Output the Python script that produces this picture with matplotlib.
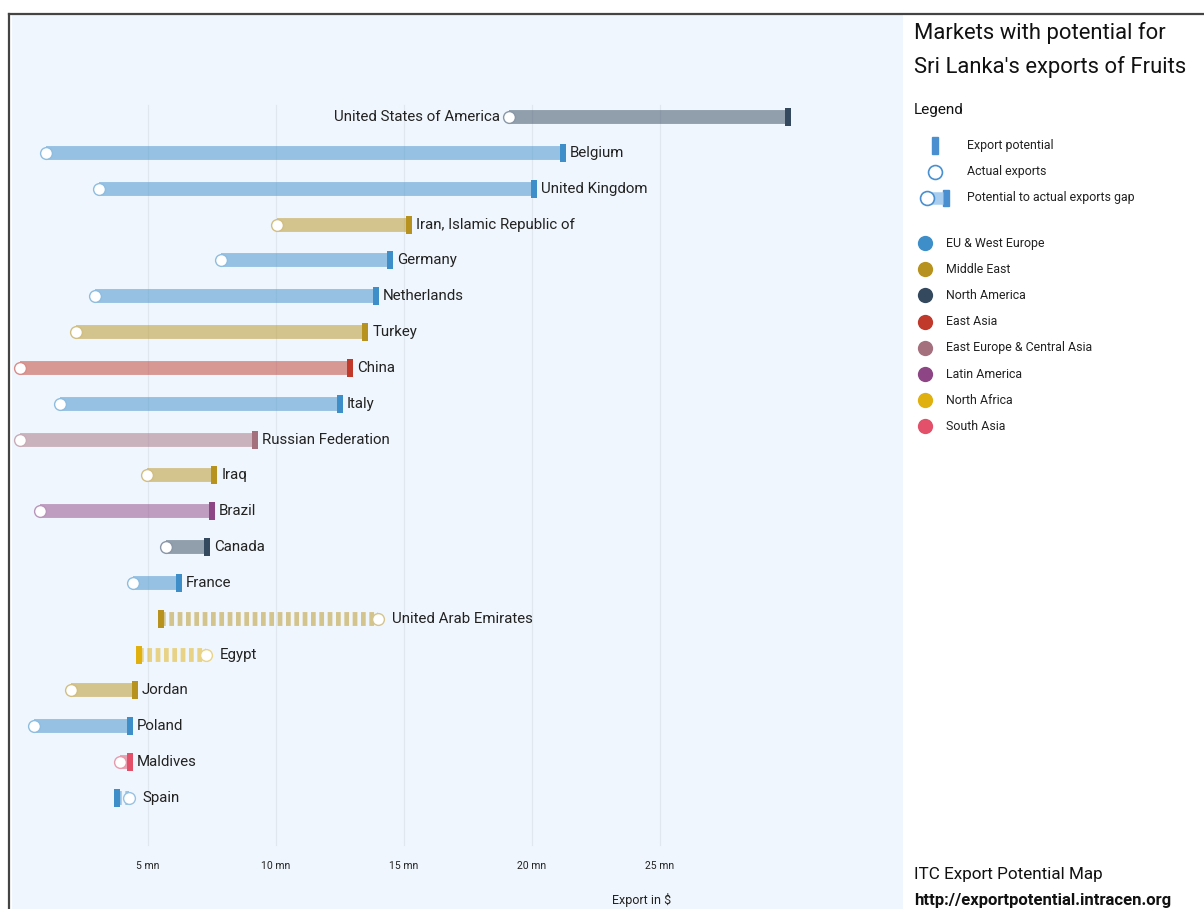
import matplotlib
matplotlib.use("Agg")
import matplotlib.pyplot as plt
from matplotlib.lines import Line2D
from matplotlib.patches import Rectangle
from matplotlib.colors import to_rgb

plt.rcParams['font.family'] = ['Roboto', 'DejaVu Sans']
plt.rcParams['lines.scale_dashes'] = False

# data (US$ mn)
countries = ["United States of America", "Belgium", "United Kingdom",
             "Iran, Islamic Republic of", "Germany", "Netherlands", "Turkey",
             "China", "Italy", "Russian Federation", "Iraq", "Brazil", "Canada",
             "France", "United Arab Emirates", "Egypt", "Jordan", "Poland",
             "Maldives", "Spain"]
regions = ["North America", "EU & West Europe", "EU & West Europe",
           "Middle East", "EU & West Europe", "EU & West Europe", "Middle East",
           "East Asia", "EU & West Europe", "East Europe & Central Asia",
           "Middle East", "Latin America", "North America", "EU & West Europe",
           "Middle East", "North Africa", "Middle East", "EU & West Europe",
           "South Asia", "EU & West Europe"]
potential = [30.0, 21.2, 20.1, 15.2, 14.45, 13.9, 13.5, 12.9, 12.5, 9.2,
             7.6, 7.5, 7.3, 6.2, 5.5, 4.65, 4.5, 4.3, 4.3, 3.8]
actual = [19.1, 1.0, 3.1, 10.05, 7.85, 2.95, 2.2, 0.0, 1.55, 0.0,
          4.95, 0.8, 5.7, 4.4, 14.0, 7.25, 2.0, 0.55, 3.9, 4.25]

region_names = ["EU & West Europe", "Middle East", "North America", "East Asia",
                "East Europe & Central Asia", "Latin America", "North Africa",
                "South Asia"]
region_colors = ["#3d8ec9", "#b8921e", "#34495e", "#c0392b", "#a5707e",
                 "#8e4585", "#e0b00f", "#e2506a"]
ticks = [5, 10, 15, 20, 25]
tick_labels = ["5 mn", "10 mn", "15 mn", "20 mn", "25 mn"]

cmap = dict(zip(region_names, region_colors))
bg = "#f0f6fd"


def light(c, f=0.5):
    a, b = to_rgb(c), to_rgb(bg)
    return tuple(f * x + (1 - f) * y for x, y in zip(a, b))


W, H = 1204, 909
fig = plt.figure(figsize=(W / 100, H / 100), dpi=100, facecolor="white")
ax = fig.add_axes([12 / W, 0, (903 - 12) / W, (909 - 15) / H])
ax.set_facecolor(bg)
ax.set_xlim(-0.31, 34.5)
ax.set_ylim(22.1, -2.85)
ax.set_xticks([])
ax.set_yticks([])
for s in ax.spines.values():
    s.set_visible(False)

# grid
for t, lab in zip(ticks, tick_labels):
    ax.plot([t, t], [-0.35, 20.3], color="#e1e7ef", lw=0.9, zorder=1)
    ax.text(t, 20.9, lab, ha="center", va="center", fontsize=7.5, color="#222")
ax.text(24.3, 21.85, "Export in $", ha="center", va="center", fontsize=9, color="#222")

rect_marker = [(-0.33, -1), (0.33, -1), (0.33, 1), (-0.33, 1), (-0.33, -1)]
fs = 10.8

for i, (c, r, p, a) in enumerate(zip(countries, regions, potential, actual)):
    col = cmap[r]
    if a <= p:
        ax.plot([a, p], [i, i], color=col, alpha=0.5, lw=10, solid_capstyle="butt", zorder=2)
        ax.plot([a], [i], marker="o", ms=8.5, mfc="white", mec=light(col, 0.55), mew=1.0, zorder=4)
        ax.plot([p], [i], marker=rect_marker, ms=13, mfc=col, mec=col, mew=0, zorder=4)
        if i == 0:
            ax.annotate(c, (a, i), xytext=(-6, 0), textcoords="offset points",
                        ha="right", va="center", fontsize=fs, color="#222")
        else:
            ax.annotate(c, (p, i), xytext=(5, 0), textcoords="offset points",
                        ha="left", va="center", fontsize=fs, color="#222")
    else:
        ax.plot([p, a], [i, i], color=col, alpha=0.5, lw=10, dashes=(3.4, 2.6),
                solid_capstyle="butt", dash_capstyle="butt", zorder=2)
        ax.plot([a], [i], marker="o", ms=8.5, mfc="white", mec=light(col, 0.5), mew=1.0, zorder=4)
        ax.plot([p], [i], marker=rect_marker, ms=13, mfc=col, mec=col, mew=0, zorder=4)
        ax.annotate(c, (a, i), xytext=(10, 0), textcoords="offset points",
                    ha="left", va="center", fontsize=fs, color="#222")

# right panel
def fx(x):
    return x / W

def fy(y):
    return 1 - y / H

fig.text(fx(914), fy(33), "Markets with potential for", fontsize=15.8, va="center", color="#111")
fig.text(fx(914), fy(67), "Sri Lanka's exports of Fruits", fontsize=15.8, va="center", color="#111")
fig.text(fx(914), fy(110), "Legend", fontsize=11, va="center", color="#111")

leg_blue = "#4a90d0"
fig.add_artist(Rectangle((fx(932), fy(154)), 6 / W, 17 / H, color=leg_blue))
fig.add_artist(Line2D([fx(935)], [fy(172)], marker="o", ms=10, mfc="white", mec=leg_blue, mew=1.2))
fig.add_artist(Line2D([fx(926), fx(943)], [fy(198), fy(198)], color="#a8cdee", lw=9, solid_capstyle="butt"))
fig.add_artist(Rectangle((fx(943), fy(206)), 6 / W, 16 / H, color=leg_blue))
fig.add_artist(Line2D([fx(927)], [fy(198)], marker="o", ms=10, mfc="white", mec=leg_blue, mew=1.2))
for ly, lab in zip([146, 172, 198], ["Export potential", "Actual exports",
                                     "Potential to actual exports gap"]):
    fig.text(fx(967), fy(ly), lab, fontsize=8.9, va="center", color="#222")

for k, (rn, rc) in enumerate(zip(region_names, region_colors)):
    ly = 243 + k * 26.2
    fig.add_artist(Line2D([fx(925)], [fy(ly)], marker="o", ms=11, mfc=rc, mec=rc, mew=0))
    fig.text(fx(946), fy(ly), rn, fontsize=8.9, va="center", color="#222")

fig.text(fx(914), fy(874), "ITC Export Potential Map", fontsize=12.3, va="center", color="#111")
fig.text(fx(914), fy(900), "http://exportpotential.intracen.org", fontsize=12,
         fontweight="bold", va="center", color="#111")

# frame lines
fig.add_artist(Line2D([fx(9), 1], [fy(14), fy(14)], color="#444", lw=1.6))
fig.add_artist(Line2D([fx(9), fx(9)], [fy(14), 0], color="#444", lw=1.6))

fig.savefig("out.png", dpi=100, facecolor="white")
